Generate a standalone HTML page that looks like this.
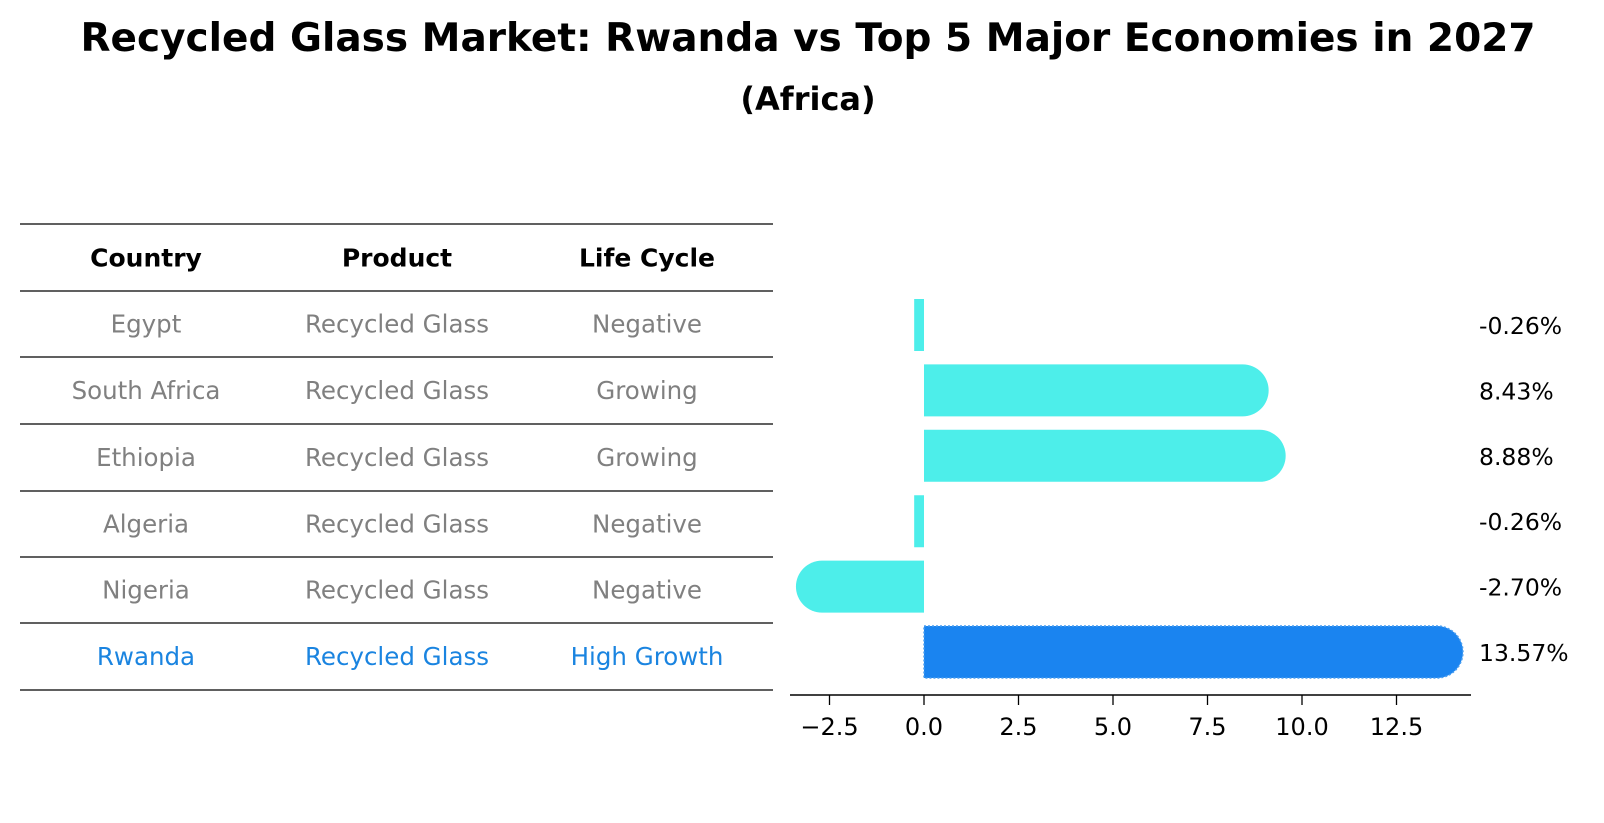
<!DOCTYPE html>
<html><head><meta charset="utf-8"><style>
body{margin:0;background:#fff;font-family:"DejaVu Sans","Liberation Sans",sans-serif;}
#wrap{position:relative;width:1604px;height:823px;overflow:hidden;}
</style></head><body>
<div id="wrap">
<svg id="svg" width="1604" height="823" xmlns="http://www.w3.org/2000/svg" font-family="DejaVu Sans, Liberation Sans, sans-serif">
<text x="808" y="51" text-anchor="middle" font-size="39" font-weight="bold">Recycled Glass Market: Rwanda vs Top 5 Major Economies in 2027</text>
<text x="808" y="110" text-anchor="middle" font-size="32" font-weight="bold">(Africa)</text>
<g id="table"></g>
<g id="bars"></g>
</svg>
</div>
<script>
const countries=["Egypt","South Africa","Ethiopia","Algeria","Nigeria","Rwanda"];
const products=["Recycled Glass","Recycled Glass","Recycled Glass","Recycled Glass","Recycled Glass","Recycled Glass"];
const lifeCycles=["Negative","Growing","Growing","Negative","Negative","High Growth"];
const values=[-0.26,8.43,8.88,-0.26,-2.70,13.57];
const tickValues=[-2.5,0,2.5,5,7.5,10,12.5];
const tickLabels=["\u22122.5","0.0","2.5","5.0","7.5","10.0","12.5"];

const NS="http://www.w3.org/2000/svg";
function mk(tag,attrs,parent){const e=document.createElementNS(NS,tag);for(const k in attrs)e.setAttribute(k,attrs[k]);parent.appendChild(e);return e;}
const table=document.getElementById('table');
const bars=document.getElementById('bars');
const lineYs=[224,291,357,424,491,557,623,690];
const colX=[146,397,647];
for(const y of lineYs){const l=mk('line',{x1:20,x2:773,y1:y,y2:y,stroke:'#000','stroke-width':1.2},table);

}
const headers=["Country","Product","Life Cycle"];
headers.forEach((h,i)=>{const t=mk('text',{x:colX[i],y:(lineYs[0]+lineYs[1])/2+9,'text-anchor':'middle','font-size':25,'font-weight':'bold'},table);t.textContent=h;

});
countries.forEach((c,r)=>{const y=(lineYs[r+1]+lineYs[r+2])/2+8.5;const col=r===countries.length-1?'#1a84e0':'#808080';
[c,products[r],lifeCycles[r]].forEach((v,i)=>{const t=mk('text',{x:colX[i],y:y,'text-anchor':'middle','font-size':24.5,fill:col},table);t.textContent=v;

});});

const x0=924, pxPer=94.5/2.5;
const xs=v=>x0+v*pxPer;
const rowY=r=>325+r*65.4;
const bh=52, cap=26;
values.forEach((v,r)=>{
  const cy=rowY(r), top=cy-bh/2;
  const hl=r===values.length-1;
  const fill=hl?'#1a84f0':'#4deeea';
  const ext=Math.abs(v)*pxPer>cap?cap:0;
  const end=xs(v)+Math.sign(v)*ext;
  const left=Math.min(x0,end), w=Math.abs(end-x0);
  const rad=ext?cap:0;
  let d;
  if(v>=0) d=`M${left},${top}H${left+w-rad}A${rad},${rad} 0 0 1 ${left+w},${top+rad}V${top+bh-rad}A${rad},${rad} 0 0 1 ${left+w-rad},${top+bh}H${left}Z`;
  else d=`M${left+w},${top}H${left+rad}A${rad},${rad} 0 0 0 ${left},${top+rad}V${top+bh-rad}A${rad},${rad} 0 0 0 ${left+rad},${top+bh}H${left+w}Z`;
  const p=mk('path',{d:d,fill:fill},bars);
  if(hl){p.setAttribute('stroke','#4a9ef0');p.setAttribute('stroke-dasharray','2,2');p.setAttribute('stroke-width','1.5');}
  
  
  const t=mk('text',{x:1479,y:cy+9,'font-size':23.5},bars);
  t.textContent=v.toFixed(2)+'%';
  
  
});
const ax=mk('line',{x1:790,x2:1471,y1:695,y2:695,stroke:'#000','stroke-width':1.5},bars);


tickValues.forEach((v,i)=>{
  const tk=mk('line',{x1:xs(v),x2:xs(v),y1:695,y2:705,stroke:'#000','stroke-width':1.3},bars);
  
  
  const t=mk('text',{x:xs(v),y:735,'text-anchor':'middle','font-size':24},bars);
  t.textContent=tickLabels[i];
  
  
});
</script>
</body></html>
